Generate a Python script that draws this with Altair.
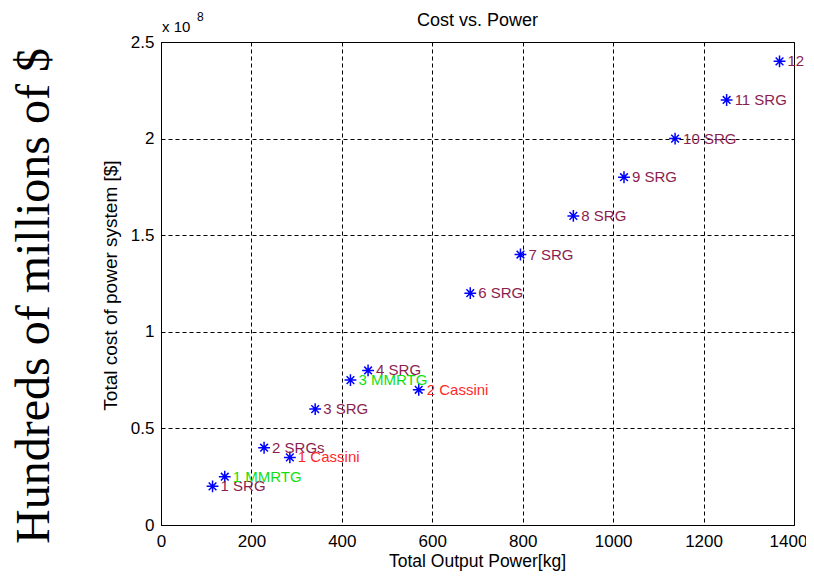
import altair as alt
import pandas as pd

# ---- data ----
labels = ["1 SRG", "2 SRGs", "3 SRG", "4 SRG", "6 SRG", "7 SRG", "8 SRG", "9 SRG",
          "10 SRG", "11 SRG", "12 SRG", "1 MMRTG", "3 MMRTG", "1 Cassini", "2 Cassini"]
power = [114, 228, 341, 458, 684, 795, 912, 1024, 1137, 1251, 1368, 141, 419, 285, 570]
cost = [2.0e7, 4.0e7, 6.0e7, 8.0e7, 1.2e8, 1.4e8, 1.6e8, 1.8e8, 2.0e8, 2.2e8, 2.4e8,
        2.5e7, 7.5e7, 3.5e7, 7.0e7]
kind = ["SRG"] * 11 + ["MMRTG"] * 2 + ["Cassini"] * 2

kinds = ["SRG", "MMRTG", "Cassini"]
kind_colors = ["#8B1E50", "#10E010", "#FF2A2A"]

x_ticks = [0, 200, 400, 600, 800, 1000, 1200, 1400]
y_ticks = [0, 0.5e8, 1.0e8, 1.5e8, 2.0e8, 2.5e8]

title_text = "Cost vs. Power"
x_title = "Total Output Power[kg]"
y_title = "Total cost of power system [$]"
big_title = "Hundreds of millions of $"

df = pd.DataFrame({"label": labels, "power": power, "cost": cost, "kind": kind})

W, H = 633, 483
SANS = "Liberation Sans"
STAR = "M-1,0L1,0M0,-1L0,1M-0.65,-0.65L0.65,0.65M-0.65,0.65L0.65,-0.65"

x_enc = alt.X("power:Q",
              scale=alt.Scale(domain=[0, 1400], nice=False, zero=False),
              axis=alt.Axis(values=x_ticks, title=None, grid=True, gridDash=[4, 3],
                            gridColor="black", gridOpacity=1, tickSize=0, labelPadding=8,
                            labelFontSize=17, labelFont=SANS, labelColor="black",
                            domainColor="black", labelFlush=False, format="d",
                            labelOffset={"condition": {"test": "datum.value === 1400",
                                                       "value": -6}, "value": 0}))
y_enc = alt.Y("cost:Q",
              scale=alt.Scale(domain=[0, 2.5e8], nice=False, zero=False),
              axis=alt.Axis(values=y_ticks, title=None, grid=True, gridDash=[4, 3],
                            gridColor="black", gridOpacity=1, tickSize=0, labelPadding=7,
                            labelFontSize=17, labelFont=SANS, labelColor="black",
                            domainColor="black", labelExpr="'' + datum.value/1e8",
                            labelFlush=False))

base = alt.Chart(df)

points = base.mark_point(shape=STAR, filled=False, size=140, strokeWidth=1.5,
                         color="#0000FF", opacity=1).encode(x=x_enc, y=y_enc)

point_labels = base.mark_text(align="left", baseline="middle", dx=8, fontSize=15,
                              font=SANS).encode(
    x=x_enc, y=y_enc, text="label:N",
    color=alt.Color("kind:N", scale=alt.Scale(domain=kinds, range=kind_colors), legend=None))


def note(txt, xv, yv, **kw):
    return alt.Chart(pd.DataFrame({"t": [txt]})).mark_text(**kw).encode(
        text="t:N", x=alt.value(xv), y=alt.value(yv))


title = note(title_text, W / 2, -21, fontSize=18, font=SANS, color="black",
             align="center", baseline="middle")
xt = note(x_title, W / 2, H + 37, fontSize=17.5, font=SANS, color="black",
          align="center", baseline="middle")
yt = note(y_title, -50, H / 2 + 2, fontSize=19, font=SANS, color="black", angle=270,
          align="center", baseline="middle")
big = note(big_title, -126, 254, fontSize=48, font="Liberation Serif", color="black",
           angle=270, align="center", baseline="middle")
exp1 = note("x 10", 1, -15, fontSize=15, font=SANS, color="black",
            align="left", baseline="middle")
exp2 = note("8", 36, -25, fontSize=12, font=SANS, color="black",
            align="left", baseline="middle")

chart = alt.layer(points, point_labels, title, xt, yt, big, exp1, exp2).properties(
    width=W, height=H,
    padding={"left": 153, "top": 34, "right": 12, "bottom": 46},
    autosize="none",
    background="white",
).configure_view(stroke="black", strokeWidth=1)

chart.save("out.html", embed_options={"renderer": "svg", "actions": False})
